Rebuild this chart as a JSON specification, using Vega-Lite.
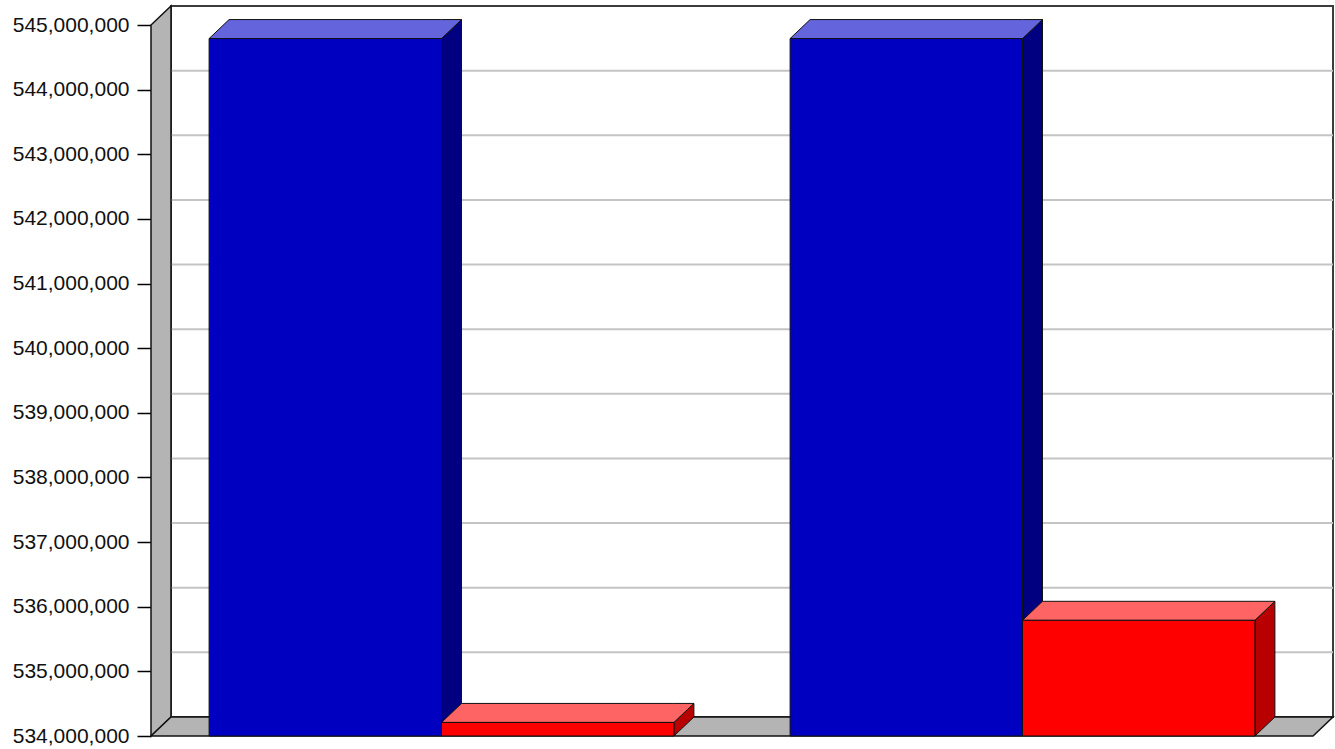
{
  "$schema": "https://vega.github.io/schema/vega-lite/v6.json",
  "width": 1182,
  "height": 730,
  "autosize": {"type": "none"},
  "padding": {"left": 151, "top": 6, "right": 2, "bottom": 13},
  "background": "white",
  "config": {
    "view": {"stroke": null},
    "axisY": {
      "title": null, "grid": false, "domain": false, "format": ",d",
      "ticks": true, "tickSize": 14, "tickColor": "black", "tickWidth": 1.5,
      "labelFont": "Liberation Sans", "labelFontSize": 21, "labelColor": "#111111", "labelPadding": 8
    }
  },
  "datasets": {
    "bars": [
      {"group": "1", "series": "A", "value": 544790000},
      {"group": "1", "series": "B", "value": 534210000},
      {"group": "2", "series": "A", "value": 544790000},
      {"group": "2", "series": "B", "value": 535790000}
    ],
    "gridValues": [
      {"tick": 535000000}, {"tick": 536000000}, {"tick": 537000000}, {"tick": 538000000}, {"tick": 539000000},
      {"tick": 540000000}, {"tick": 541000000}, {"tick": 542000000}, {"tick": 543000000}, {"tick": 544000000}
    ]
  },
  "layer": [
    {
      "data": {"values": [{}]},
      "mark": {"type": "rect", "fill": "white", "stroke": "#3c3c3c", "strokeWidth": 2},
      "encoding": {
        "x": {"datum": 0.0344, "type": "quantitative", "scale": {"domain": [0, 2.0344], "nice": false, "zero": false}, "axis": null},
        "x2": {"datum": 2.0344},
        "y": {"datum": 534294000, "type": "quantitative", "scale": {"domain": [534000000, 545294000], "nice": false, "zero": false},
          "axis": {"values": [534000000, 535000000, 536000000, 537000000, 538000000, 539000000, 540000000, 541000000, 542000000, 543000000, 544000000, 545000000], "title": null}},
        "y2": {"datum": 545294000}
      }
    },
    {
      "data": {"name": "gridValues"},
      "transform": [{"calculate": "datum.tick + 294000", "as": "gy"}],
      "mark": {"type": "rule", "stroke": "#c4c4c4", "strokeWidth": 2},
      "encoding": {
        "x": {"datum": 0.0344, "type": "quantitative", "axis": null},
        "x2": {"datum": 2.0344},
        "y": {"field": "gy", "type": "quantitative",
          "axis": {"values": [534000000, 535000000, 536000000, 537000000, 538000000, 539000000, 540000000, 541000000, 542000000, 543000000, 544000000, 545000000], "title": null}}
      }
    },
    {
      "data": {"values": [{}]},
      "transform": [
        {"calculate": "[0,1]", "as": "pts"},
        {"flatten": ["pts"], "as": ["k"]},
        {"calculate": "datum.k * 0.0344", "as": "px"},
        {"calculate": "534000000 + datum.k * 294000", "as": "ylo"},
        {"calculate": "545000000 + datum.k * 294000", "as": "yhi"}
      ],
      "mark": {"type": "area", "fill": "#b4b4b4", "stroke": "#111111", "strokeWidth": 1.5},
      "encoding": {
        "x": {"field": "px", "type": "quantitative", "axis": null},
        "y": {"field": "ylo", "type": "quantitative",
          "axis": {"values": [534000000, 535000000, 536000000, 537000000, 538000000, 539000000, 540000000, 541000000, 542000000, 543000000, 544000000, 545000000], "title": null}},
        "y2": {"field": "yhi"}
      }
    },
    {
      "data": {"values": [{}]},
      "transform": [
        {"calculate": "[0,1,2,3]", "as": "pts"},
        {"flatten": ["pts"], "as": ["k"]},
        {"calculate": "datum.k == 0 ? 0 : datum.k == 1 ? 0.0344 : datum.k == 2 ? 2 : 2.0344", "as": "px"},
        {"calculate": "datum.k == 3 ? 534294000 : 534000000", "as": "ylo"},
        {"calculate": "datum.k == 0 ? 534000000 : 534294000", "as": "yhi"}
      ],
      "mark": {"type": "area", "fill": "#b4b4b4", "stroke": "#111111", "strokeWidth": 1.5},
      "encoding": {
        "x": {"field": "px", "type": "quantitative", "axis": null},
        "y": {"field": "ylo", "type": "quantitative",
          "axis": {"values": [534000000, 535000000, 536000000, 537000000, 538000000, 539000000, 540000000, 541000000, 542000000, 543000000, 544000000, 545000000], "title": null}},
        "y2": {"field": "yhi"}
      }
    },
    {
      "data": {"name": "bars"},
      "transform": [
        {"calculate": "(datum.group == '2' ? 1 : 0) + 0.1 + (datum.series == 'B' ? 0.4 : 0)", "as": "x0"},
        {"calculate": "datum.x0 + 0.4", "as": "x1"},
        {"calculate": "datum.group + datum.series", "as": "bid"},
        {"calculate": "[0,1]", "as": "pts"},
        {"flatten": ["pts"], "as": ["k"]},
        {"calculate": "datum.x1 + datum.k * 0.0344", "as": "px"},
        {"calculate": "534000000 + datum.k * 294000", "as": "ylo"},
        {"calculate": "datum.value + datum.k * 294000", "as": "yhi"}
      ],
      "mark": {"type": "area", "stroke": "#111111", "strokeWidth": 1, "opacity": 1, "fillOpacity": 1},
      "encoding": {
        "x": {"field": "px", "type": "quantitative", "axis": null},
        "y": {"field": "ylo", "type": "quantitative",
          "axis": {"values": [534000000, 535000000, 536000000, 537000000, 538000000, 539000000, 540000000, 541000000, 542000000, 543000000, 544000000, 545000000], "title": null}},
        "y2": {"field": "yhi"},
        "detail": {"field": "bid"},
        "color": {"field": "series", "type": "nominal", "scale": {"domain": ["A", "B"], "range": ["#000080", "#b80000"]}, "legend": null}
      }
    },
    {
      "data": {"name": "bars"},
      "transform": [
        {"calculate": "(datum.group == '2' ? 1 : 0) + 0.1 + (datum.series == 'B' ? 0.4 : 0)", "as": "x0"},
        {"calculate": "datum.x0 + 0.4", "as": "x1"},
        {"calculate": "datum.group + datum.series", "as": "bid"},
        {"calculate": "[0,1,2,3]", "as": "pts"},
        {"flatten": ["pts"], "as": ["k"]},
        {"calculate": "datum.k == 0 ? datum.x0 : datum.k == 1 ? datum.x0 + 0.0344 : datum.k == 2 ? datum.x1 : datum.x1 + 0.0344", "as": "px"},
        {"calculate": "datum.k == 3 ? datum.value + 294000 : datum.value", "as": "ylo"},
        {"calculate": "datum.k == 0 ? datum.value : datum.value + 294000", "as": "yhi"}
      ],
      "mark": {"type": "area", "stroke": "#111111", "strokeWidth": 1, "opacity": 1, "fillOpacity": 1},
      "encoding": {
        "x": {"field": "px", "type": "quantitative", "axis": null},
        "y": {"field": "ylo", "type": "quantitative",
          "axis": {"values": [534000000, 535000000, 536000000, 537000000, 538000000, 539000000, 540000000, 541000000, 542000000, 543000000, 544000000, 545000000], "title": null}},
        "y2": {"field": "yhi"},
        "detail": {"field": "bid"},
        "color": {"field": "series", "type": "nominal", "scale": {"domain": ["A", "B"], "range": ["#6464dc", "#ff6464"]}, "legend": null}
      }
    },
    {
      "data": {"name": "bars"},
      "transform": [
        {"calculate": "(datum.group == '2' ? 1 : 0) + 0.1 + (datum.series == 'B' ? 0.4 : 0)", "as": "x0"},
        {"calculate": "datum.x0 + 0.4", "as": "x1"}
      ],
      "mark": {"type": "rect", "stroke": "#111111", "strokeWidth": 1, "opacity": 1},
      "encoding": {
        "x": {"field": "x0", "type": "quantitative", "axis": null},
        "x2": {"field": "x1"},
        "y": {"field": "value", "type": "quantitative", "scale": {"domain": [534000000, 545294000], "nice": false, "zero": false},
          "axis": {"values": [534000000, 535000000, 536000000, 537000000, 538000000, 539000000, 540000000, 541000000, 542000000, 543000000, 544000000, 545000000], "title": null}},
        "y2": {"datum": 534000000},
        "color": {"field": "series", "type": "nominal", "scale": {"domain": ["A", "B"], "range": ["#0000c0", "#ff0000"]}, "legend": null}
      }
    }
  ],
  "resolve": {"scale": {"color": "independent"}}
}
